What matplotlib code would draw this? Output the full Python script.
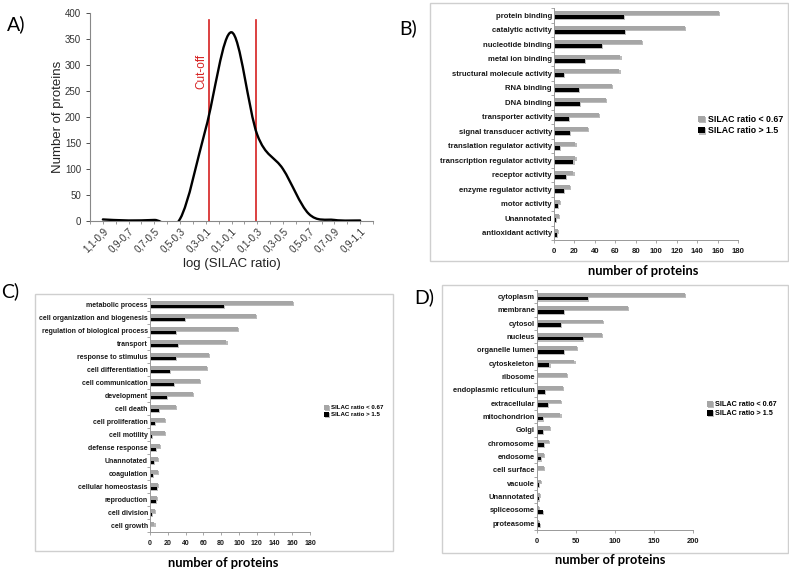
import numpy as np
import matplotlib
matplotlib.use('Agg')
import matplotlib.pyplot as plt
from matplotlib.path import Path
from matplotlib.patches import PathPatch, Rectangle
import matplotlib.patheffects as pe

plt.rcParams['font.family'] = ['Liberation Sans', 'DejaVu Sans']

# ---- panel A: distribution of log SILAC ratios
a_bins = ['1,1-0,9', '0,9-0,7', '0,7-0,5', '0,5-0,3', '0,3-0,1', '0,1-0,1',
          '0,1-0,3', '0,3-0,5', '0,5-0,7', '0,7-0,9', '0,9-1,1']
a_counts = [3, 1, 2, 4, 178, 363, 166, 100, 14, 2, 1]
a_cutoffs = [4.12, 5.94]

# ---- panel B: molecular function
b_cats = ['protein binding', 'catalytic activity', 'nucleotide binding', 'metal ion binding',
          'structural molecule activity', 'RNA binding', 'DNA binding', 'transporter activity',
          'signal transducer activity', 'translation regulator activity',
          'transcription regulator activity', 'receptor activity', 'enzyme regulator activity',
          'motor activity', 'Unannotated', 'antioxidant activity']
b_low = [161, 128, 86, 65, 64, 57, 51, 44, 33, 21, 21, 19, 16, 6, 5, 4]
b_high = [68, 69, 47, 30, 10, 24, 25, 15, 16, 6, 19, 12, 10, 4, 2, 3]

# ---- panel C: biological process
c_cats = ['metabolic process', 'cell organization and biogenesis',
          'regulation of biological process', 'transport', 'response to stimulus',
          'cell differentiation', 'cell communication', 'development', 'cell death',
          'cell proliferation', 'cell motility', 'defense response', 'Unannotated',
          'coagulation', 'cellular homeostasis', 'reproduction', 'cell division', 'cell growth']
c_low = [161, 119, 99, 86, 66, 64, 56, 48, 29, 17, 17, 11, 9, 9, 9, 8, 6, 5]
c_high = [83, 39, 29, 31, 29, 22, 27, 19, 10, 6, 2, 7, 4, 3, 8, 7, 2, 0]

# ---- panel D: cellular component
d_cats = ['cytoplasm', 'membrane', 'cytosol', 'nucleus', 'organelle lumen', 'cytoskeleton',
          'ribosome', 'endoplasmic reticulum', 'extracellular', 'mitochondrion', 'Golgi',
          'chromosome', 'endosome', 'cell surface', 'vacuole', 'Unannotated',
          'spliceosome', 'proteasome']
d_low = [190, 117, 84, 83, 51, 48, 38, 33, 31, 30, 17, 15, 9, 9, 5, 4, 3, 2]
d_high = [65, 35, 31, 59, 34, 16, 0, 10, 14, 8, 8, 9, 5, 0, 2, 3, 8, 4]

W, H = 789, 572
fig = plt.figure(figsize=(W / 100, H / 100), dpi=100)


def rect(l, t, r, b):
    return [l / W, 1 - b / H, (r - l) / W, (b - t) / H]


def box(l, t, r, b):
    fig.add_artist(Rectangle((l / W, 1 - b / H), (r - l) / W, (b - t) / H,
                             transform=fig.transFigure, fill=False,
                             ec='#cfcfcf', lw=1.0))


def ftext(x, y, s, **kw):
    fig.text(x / W, 1 - y / H, s, **kw)


# Excel style smoothed line: bezier segments through the points
def smooth_path(xs, ys):
    pts = np.column_stack([xs, ys]).astype(float)
    n = len(pts)
    verts = [pts[0]]
    codes = [Path.MOVETO]
    for i in range(n - 1):
        p0 = pts[i - 1] if i > 0 else pts[i]
        p3 = pts[i + 2] if i + 2 < n else pts[i + 1]
        c1 = pts[i] + (pts[i + 1] - p0) / 6
        c2 = pts[i + 1] - (p3 - pts[i]) / 6
        verts += [c1, c2, pts[i + 1]]
        codes += [Path.CURVE4] * 3
    return Path(verts, codes)


# ---------------- A
axA = fig.add_axes(rect(90, 13, 373, 221))
xa = np.arange(len(a_bins))
axA.add_patch(PathPatch(smooth_path(xa, a_counts), fill=False, ec='black', lw=1.7,
                        capstyle='round', joinstyle='round', zorder=3))
for xc in a_cutoffs:
    axA.plot([xc, xc], [0, 386], color='#d62020', lw=1.2, zorder=2)
axA.text(a_cutoffs[0] - 0.3, 287, 'Cut-off', color='#d62020', rotation=90,
         ha='center', va='center', fontsize=8.5)
axA.set_xlim(-0.5, len(a_bins) - 0.5)
axA.set_ylim(0, 400)
axA.set_yticks(range(0, 401, 50))
axA.set_xticks(xa)
axA.set_xticks(np.arange(-0.5, len(a_bins), 1.0), minor=True)
axA.set_xticklabels(a_bins, rotation=45, ha='right', rotation_mode='anchor', fontsize=7,
                    color='#333333')
axA.tick_params(axis='y', labelsize=7, colors='#333333', length=3, width=0.6)
axA.tick_params(axis='x', which='both', length=2.5, width=0.6, colors='#888888', pad=1)
for lab in axA.get_xticklabels():
    lab.set_color('#333333')
for s in ['top', 'right']:
    axA.spines[s].set_visible(False)
for s in ['left', 'bottom']:
    axA.spines[s].set_color('#888888')
    axA.spines[s].set_linewidth(0.8)
axA.set_ylabel('Number of proteins', fontsize=9.5, color='#222222')
axA.set_xlabel('log (SILAC ratio)', fontsize=9.5, color='#222222')
axA.yaxis.set_label_coords(-0.113, 0.5)
axA.xaxis.set_label_coords(0.5, -0.207)
axA.xaxis.label.set_va('center')
axA.yaxis.label.set_va('center')
ftext(16, 24, 'A)', fontsize=14, family='Lato', ha='center', va='center')

shadow = [pe.SimplePatchShadow(offset=(0.8, -0.8), shadow_rgbFace='#7a7a7a', alpha=0.5),
          pe.Normal()]


def bar_panel(ax, cats, low, high, xmax, xstep, fs):
    y = np.arange(len(cats))
    b1 = ax.barh(y - 0.14, low, height=0.28, color='#a6a6a6', path_effects=shadow,
                 label='SILAC ratio < 0.67')
    b2 = ax.barh(y + 0.14, high, height=0.28, color='black', path_effects=shadow,
                 label='SILAC ratio > 1.5')
    ax.set_ylim(len(cats) - 0.5, -0.5)
    ax.set_xlim(0, xmax)
    ax.set_xticks(np.arange(0, xmax + 1, xstep))
    ax.set_yticks(y)
    ax.set_yticklabels(cats, fontsize=fs, fontweight='bold', color='#1a1a1a')
    ax.set_yticks(np.arange(-0.5, len(cats), 1.0), minor=True)
    ax.tick_params(axis='y', which='major', length=0, pad=1.5)
    ax.tick_params(axis='y', which='minor', length=2, width=0.6, color='#999999')
    ax.tick_params(axis='x', length=2.5, width=0.6, color='#999999', labelsize=fs,
                   labelcolor='#1a1a1a', pad=3)
    for lab in ax.get_xticklabels():
        lab.set_fontweight('bold')
    for s in ['top', 'right']:
        ax.spines[s].set_visible(False)
    for s in ['left', 'bottom']:
        ax.spines[s].set_color('#999999')
        ax.spines[s].set_linewidth(0.7)
    return b1, b2


def legend_at(handles, x, y, fs):
    fig.legend(handles=handles, loc='upper left', bbox_to_anchor=(x / W, 1 - y / H),
               frameon=False, prop={'weight': 'bold', 'size': fs},
               handlelength=0.8, handleheight=0.8, handletextpad=0.3,
               labelspacing=0.25, borderpad=0, borderaxespad=0)


def xlab(x, y, s='number of proteins'):
    ftext(x, y, s, fontsize=9.3, family='Lato', fontweight='bold', ha='center', va='center')


# ---------------- B
box(430, 3, 788, 261)
axB = fig.add_axes(rect(554, 8, 738, 240))
hb = bar_panel(axB, b_cats, b_low, b_high, 180, 20, 5.6)
legend_at(hb, 698, 115, 6.3)
xlab(643, 271)
ftext(408, 28, 'B)', fontsize=14, family='Lato', ha='center', va='center')

# ---------------- C
box(35, 294, 393, 551)
axC = fig.add_axes(rect(150, 298, 310, 532))
hc = bar_panel(axC, c_cats, c_low, c_high, 180, 20, 5.0)
legend_at(hc, 324, 405, 4.4)
xlab(223, 563)
ftext(10, 291, 'C)', fontsize=14, family='Lato', ha='center', va='center')

# ---------------- D
box(442, 285, 788, 553)
axD = fig.add_axes(rect(537, 290, 693, 530))
hd = bar_panel(axD, d_cats, d_low, d_high, 200, 50, 5.4)
legend_at(hd, 707, 401, 5.2)
xlab(610, 560)
ftext(424, 297, 'D)', fontsize=14, family='Lato', ha='center', va='center')

fig.savefig('out.png', dpi=100)
